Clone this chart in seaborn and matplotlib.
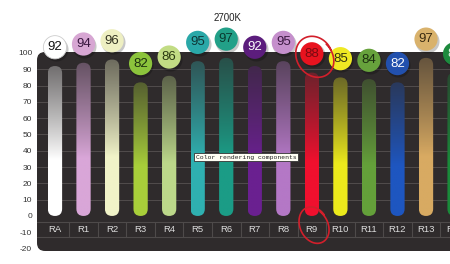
import numpy as np
import matplotlib
matplotlib.use("Agg")
import matplotlib.pyplot as plt
from matplotlib.patches import FancyBboxPatch
import seaborn as sns

# CRI components for a 2700K source
categories = ["RA", "R1", "R2", "R3", "R4", "R5", "R6", "R7",
              "R8", "R9", "R10", "R11", "R12", "R13", "R14"]
values = [92, 94, 96, 82, 86, 95, 97, 92, 95, 88, 85, 84, 82, 97, 88]
y_ticks = [-20, -10, 0, 10, 20, 30, 40, 50, 60, 70, 80, 90, 100]
title = "2700K"
tooltip = "Color rendering components"

bar_colors = ["#ffffff", "#d9a6d8", "#f1f3c8", "#a8cf3a", "#bcd88a", "#2fb0b0",
              "#1b9c86", "#6a2090", "#b478c6", "#f0102e", "#ecea1c", "#64a03a",
              "#1e56c0", "#d8aa62", "#1a8a3a"]
bubble_colors = ["#ffffff", "#d7a6d3", "#eeefc2", "#8cc43c", "#c2dc84", "#2aa8a8",
                 "#22a088", "#5c1d7d", "#c58fcc", "#e8131f", "#efe923", "#67a23c",
                 "#2250ad", "#d9b26c", "#1d8a3e"]
bubble_text = ["#111111", "#3a1840", "#333322", "#1e3010", "#2b3a10", "#0f3535",
               "#0a3a30", "#ffffff", "#3a1840", "#7a0a10", "#333311", "#1c3010",
               "#ffffff", "#3a2a10", "#d8eedd"]

PANEL = "#2f2b2c"
GRID = "#524d4d"

sns.set_theme(style="white")
plt.rcParams["font.family"] = ["Liberation Sans Narrow", "Liberation Sans", "DejaVu Sans"]

fig = plt.figure(figsize=(4.5, 2.64), dpi=100, facecolor="white")
ax = fig.add_axes([37 / 450, 13 / 264, 1 - 37 / 450, 199 / 264])
ax.set_facecolor("none")

XLIM = (-0.63, 13.84)
YLIM = (-21.5, 100.6)

# dark rounded panel behind the chart
bbox_w_px = 450 - 37
bbox_h_px = 199
panel = FancyBboxPatch((0, 0), 1.1, 1, transform=ax.transAxes,
                       boxstyle="round,pad=0,rounding_size=%f" % (8 / bbox_w_px),
                       mutation_aspect=bbox_w_px / bbox_h_px,
                       facecolor=PANEL, edgecolor="none", zorder=0, clip_on=False)
ax.add_patch(panel)

# horizontal guide lines
for g in [90, 80, 70, 60, 50, 40, 30, 20, 10]:
    ax.axhline(g, color=GRID, lw=0.7, zorder=1)
for g in [-3.5, -13]:
    ax.axhline(g, color="#4e4a4a", lw=0.8, zorder=1)

sns.barplot(x=categories, y=values, ax=ax, width=0.5, color="white",
            saturation=1, zorder=2)
ax.set_xlim(*XLIM)
ax.set_ylim(*YLIM)

# pixel scale of each axis, used for round ends
fig.canvas.draw()
px_x = ax.transData.transform((1, 0))[0] - ax.transData.transform((0, 0))[0]
px_y = ax.transData.transform((0, 1))[1] - ax.transData.transform((0, 0))[1]
aspect = px_x / px_y

bg = np.array(matplotlib.colors.to_rgb(PANEL))
patches = list(ax.patches)[1:]
for i, rect in enumerate(patches):
    x0, w, h = rect.get_x(), rect.get_width(), rect.get_height()
    rect.set_visible(False)
    capsule = FancyBboxPatch((x0, 0), w, h,
                             boxstyle="round,pad=0,rounding_size=%f" % (w / 2),
                             mutation_aspect=aspect, facecolor="none",
                             edgecolor="none", transform=ax.transData)
    ax.add_patch(capsule)
    n = 200
    t = np.linspace(0, 1, n)
    mix = np.clip((t - 0.38) / 0.62, 0, 1) ** 0.9 * 0.68
    c = np.array(matplotlib.colors.to_rgb(bar_colors[i]))
    rgb = c[None, :] * (1 - mix[:, None]) + bg[None, :] * mix[:, None]
    img = rgb[:, None, :]
    im = ax.imshow(img, extent=[x0, x0 + w, 0, h], origin="lower",
                   aspect="auto", zorder=3, interpolation="bilinear")
    im.set_clip_path(capsule)

ax.set_xlim(*XLIM)
ax.set_ylim(*YLIM)

# category labels and separators in the bottom row
for i, cat in enumerate(categories):
    ax.text(i, -8.2, cat, ha="center", va="center", fontsize=6.8,
            color="#dcdcdc", zorder=4, clip_on=False)
    ax.plot([i + 0.5, i + 0.5], [-3.5, -13], color="#4e4a4a", lw=0.8,
            zorder=1, clip_on=False)

# value bubbles
offset = 11.5
xs = np.arange(len(values))
bys = np.array(values) + offset
ax.scatter(xs + 0.03, bys - 1.0, s=300, color="black", alpha=0.22,
           linewidths=0, zorder=5, clip_on=False)
ax.scatter(xs, bys, s=280, c=bubble_colors, edgecolors="#cccccc",
           linewidths=[0.6] + [0] * (len(values) - 1), zorder=6, clip_on=False)
for i, v in enumerate(values):
    ax.text(i, v + offset, str(v), ha="center", va="center", fontsize=9.5,
            color=bubble_text[i], zorder=7, clip_on=False,
            family=["Liberation Sans", "DejaVu Sans"])

# red hand-drawn marks around R9
def loop(cx, cy, rx, ry, start, turn, tilt):
    a = np.linspace(start, start + turn, 120)
    r = 1 + 0.06 * np.sin(a * 1.5) + 0.05 * (a - start) / turn
    px = rx * r * np.cos(a + tilt)
    py = ry * r * np.sin(a)
    ax.plot(cx + px, cy + py, color="#d21f2b", lw=1.2, zorder=8,
            clip_on=False, solid_capstyle="round")

i9 = categories.index("R9")
loop(i9 + 0.07, values[i9] + 9.8, 0.66, 11.8, 0.3, 2 * np.pi + 0.4, 0.15)
loop(i9 + 0.05, -5.5, 0.52, 10.5, 0.6, 2 * np.pi + 0.3, 0.2)

ax.set_yticks(y_ticks)
ax.set_yticklabels([str(t) for t in y_ticks])
ax.tick_params(axis="y", length=0, pad=3.5, labelsize=6, labelcolor="#333333")
ax.tick_params(axis="x", length=0, labelbottom=False)
ax.set_xlabel("")
ax.set_ylabel("")
for s in ax.spines.values():
    s.set_visible(False)
ax.grid(False)

fig.text(228 / 450, 1 - 18 / 264, title, ha="center", va="center",
         fontsize=7, color="#222222", family=["Liberation Sans", "DejaVu Sans"])
fig.text(246 / 450, 1 - 157 / 264, tooltip, ha="center", va="center",
         fontsize=4.6, color="#222222", family=["Liberation Mono", "DejaVu Sans Mono"],
         bbox=dict(boxstyle="square,pad=0.25", facecolor="#fffff4",
                   edgecolor="#333333", linewidth=0.6), zorder=10)

fig.savefig("out.png", dpi=100, facecolor="white")
